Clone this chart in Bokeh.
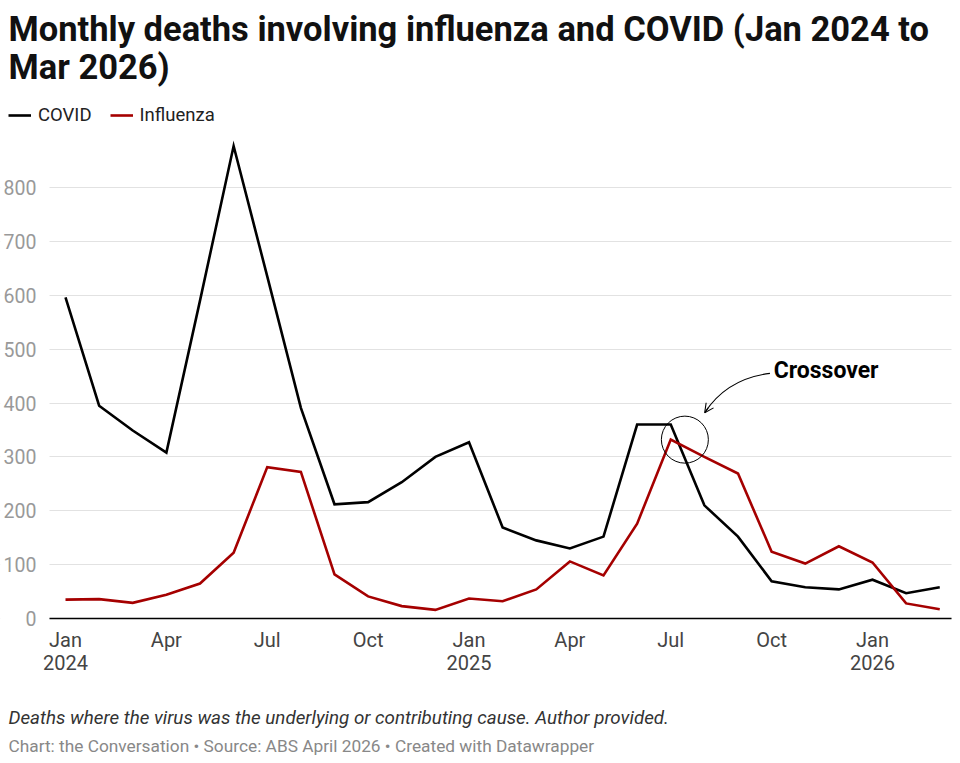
from bokeh.plotting import figure
from bokeh.models import (Range1d, FixedTicker, Label, Legend, LegendItem,
                          Arrow, OpenHead, BoxAnnotation)
from bokeh.embed import file_html
from bokeh.resources import INLINE

# Monthly deaths, Jan 2024 .. Mar 2026
months = ["2024-01", "2024-02", "2024-03", "2024-04", "2024-05", "2024-06",
          "2024-07", "2024-08", "2024-09", "2024-10", "2024-11", "2024-12",
          "2025-01", "2025-02", "2025-03", "2025-04", "2025-05", "2025-06",
          "2025-07", "2025-08", "2025-09", "2025-10", "2025-11", "2025-12",
          "2026-01", "2026-02", "2026-03"]
covid = [596, 395, 349, 308, 590, 877, 635, 391, 212, 216, 253, 300,
         327, 169, 145, 130, 152, 360, 360, 210, 152, 69, 58, 54,
         72, 47, 58]
influenza = [35, 36, 29, 44, 65, 122, 281, 272, 82, 41, 23, 16,
             37, 32, 54, 106, 80, 176, 332, 300, 269, 124, 102, 134,
             104, 28, 17]

x_tick_months = ["2024-01", "2024-04", "2024-07", "2024-10", "2025-01",
                 "2025-04", "2025-07", "2025-10", "2026-01"]
x_tick_labels = ["Jan\n2024", "Apr", "Jul", "Oct", "Jan\n2025",
                 "Apr", "Jul", "Oct", "Jan\n2026"]
y_ticks = [0, 100, 200, 300, 400, 500, 600, 700, 800]

# point where the two series swap places (Jul/Aug 2025)
crossover_x = 18.42
crossover_y = 332

FONT = "Roboto"
COVID_COLOR = "#000000"
FLU_COLOR = "#a50000"

# page geometry (pixels from the top-left corner)
W, H = 960, 763
PLOT_L, PLOT_R = 49, 951          # horizontal extent of grid and baseline
X0_PX, MONTH_PX = 65, 33.625      # first month position, spacing per month
Y0_PX, UNIT_PX = 618, 431 / 800   # baseline position, pixels per death


def x_of(px):
    return (px - X0_PX) / MONTH_PX


def y_of(py):
    return (Y0_PX - py) / UNIT_PX


xs = list(range(len(months)))
p = figure(width=W, height=H, output_backend="svg", toolbar_location=None,
           x_range=Range1d(x_of(0), x_of(W)), y_range=Range1d(y_of(H), y_of(0)),
           min_border=0, outline_line_color=None,
           background_fill_color="white", border_fill_color="white")
p.title = None

# axes are pinned inside the page so that headings and notes share one canvas
p.xaxis.fixed_location = 0
p.xaxis.bounds = (x_of(PLOT_L), x_of(PLOT_R))
p.xaxis.ticker = FixedTicker(ticks=[months.index(m) for m in x_tick_months])
p.xaxis.major_label_overrides = {months.index(m): lab
                                 for m, lab in zip(x_tick_months, x_tick_labels)}
p.xaxis.major_tick_line_color = None
p.xaxis.minor_tick_line_color = None
p.xaxis.axis_line_color = "#000000"
p.xaxis.axis_line_width = 1.3
p.xaxis.major_label_text_font = FONT
p.xaxis.major_label_text_font_size = "20px"
p.xaxis.major_label_text_line_height = 0.96
p.xaxis.major_label_text_color = "#444444"
p.xaxis.major_label_standoff = 3

p.yaxis.fixed_location = x_of(PLOT_L)
p.yaxis.ticker = FixedTicker(ticks=y_ticks)
p.yaxis.major_tick_line_color = None
p.yaxis.minor_tick_line_color = None
p.yaxis.axis_line_color = None
p.yaxis.major_label_text_font = FONT
p.yaxis.major_label_text_font_size = "19.5px"
p.yaxis.major_label_text_color = "#999999"
p.yaxis.major_label_standoff = 7

p.xgrid.grid_line_color = None
p.ygrid.grid_line_color = "#e2e2e2"
p.ygrid.grid_line_width = 1

# keep the gridlines between the plot edges
for side in ({"right": x_of(PLOT_L)}, {"left": x_of(PLOT_R)}):
    p.add_layout(BoxAnnotation(fill_color="white", fill_alpha=1,
                               line_color=None, level="underlay", **side))

r_covid = p.line(xs, covid, line_color=COVID_COLOR, line_width=2.6,
                 line_join="miter")
r_flu = p.line(xs, influenza, line_color=FLU_COLOR, line_width=2.6,
               line_join="miter")

# crossover annotation
p.scatter([crossover_x], [crossover_y], marker="circle", size=47,
          fill_alpha=0, line_color="#000000", line_width=1)
p.quadratic(x0=[20.95], y0=[455], x1=[19.01], y1=[382],
            cx=[19.67], cy=[445], line_color="#000000", line_width=1.1)
p.add_layout(Arrow(end=OpenHead(size=9, line_width=1.1, line_color="#000000"),
                   x_start=19.11, y_start=391, x_end=19.01, y_end=382,
                   line_color="#000000", line_width=1.1))
p.add_layout(Label(x=21.06, y=461, text="Crossover", text_font=FONT,
                   text_font_size="23px", text_font_style="bold",
                   text_color="#000000", text_baseline="middle"))

# legend (location is the bottom-left corner of the legend box)
p.add_layout(Legend(items=[LegendItem(label="COVID", renderers=[r_covid]),
                           LegendItem(label="Influenza", renderers=[r_flu])],
                    orientation="horizontal", location=(8, H - 126),
                    label_text_font=FONT, label_text_font_size="18.5px",
                    label_text_color="#222222", label_standoff=7,
                    glyph_width=23, glyph_height=20, label_height=20,
                    spacing=18, padding=0, margin=0,
                    border_line_color=None, background_fill_alpha=0))


def text(s, left, y, size, color, style="normal"):
    p.add_layout(Label(x=left, y=H - y, x_units="screen",
                       y_units="screen", text=s, text_font=FONT,
                       text_font_size=size, text_color=color,
                       text_font_style=style, text_baseline="alphabetic"))


text("Monthly deaths involving influenza and COVID (Jan 2024 to",
     8, 28, "34.5px", "#111111", "bold")
text("Mar 2026)", 8, 66, "34.5px", "#111111", "bold")
text("Deaths where the virus was the underlying or contributing cause. Author provided.",
     8, 717, "18.8px", "#333333", "italic")
text("Chart: the Conversation \u2022 Source: ABS April 2026 \u2022 Created with Datawrapper",
     8, 745, "17.3px", "#888888")

open("out.html", "w").write(file_html(p, INLINE))
